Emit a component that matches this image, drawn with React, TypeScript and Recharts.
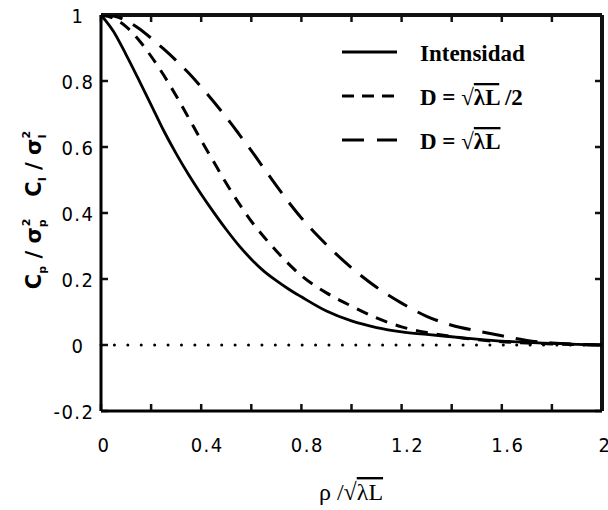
import React from 'react';
import { LineChart, Line, XAxis, YAxis, ReferenceLine, Legend } from 'recharts';

const xValues = [0, 0.05, 0.1, 0.15, 0.2, 0.25, 0.3, 0.35, 0.4, 0.45, 0.5, 0.55, 0.6, 0.65, 0.7, 0.75, 0.8, 0.9, 1.0, 1.1, 1.2, 1.3, 1.4, 1.5, 1.6, 1.7, 1.8, 1.9, 2.0];
const intensidad = [1, 0.95, 0.88, 0.805, 0.728, 0.65, 0.58, 0.516, 0.457, 0.402, 0.35, 0.302, 0.26, 0.224, 0.195, 0.169, 0.146, 0.103, 0.073, 0.053, 0.04, 0.032, 0.025, 0.018, 0.012, 0.008, 0.005, 0.002, 0];
const dMedio = [1, 0.99, 0.965, 0.925, 0.875, 0.818, 0.755, 0.688, 0.62, 0.555, 0.49, 0.43, 0.375, 0.328, 0.285, 0.245, 0.21, 0.158, 0.118, 0.082, 0.055, 0.038, 0.026, 0.016, 0.01, 0.006, 0.003, 0.001, 0];
const dCompleto = [1, 0.997, 0.983, 0.96, 0.93, 0.897, 0.862, 0.824, 0.782, 0.737, 0.69, 0.64, 0.589, 0.536, 0.483, 0.432, 0.385, 0.304, 0.234, 0.175, 0.127, 0.087, 0.06, 0.043, 0.028, 0.014, 0.006, 0.002, 0];

const xTicks = [0, 0.2, 0.4, 0.6, 0.8, 1, 1.2, 1.4, 1.6, 1.8, 2];
const xTickLabels = ['0', '0.4', '0.8', '1.2', '1.6', '2'];
const yTicks = [-0.2, 0, 0.2, 0.4, 0.6, 0.8, 1];
const seriesNames = ['Intensidad', 'D = √λL /2', 'D = √λL'];

const data = xValues.map((x, i) => ({
  x,
  intensidad: intensidad[i],
  dMedio: dMedio[i],
  dCompleto: dCompleto[i],
}));

const TICK_FONT = "'DejaVu Sans Condensed', 'DejaVu Sans', sans-serif";
const SERIF = "'Liberation Serif', 'Times New Roman', serif";
const TICK_LEN = 7;
const INK = '#111111';

const fmt = (v: number) => String(Math.round(v * 10) / 10);

const BottomTick = (props: any) => {
  const { x, y, payload } = props;
  const v = payload.value;
  const label = fmt(v);
  const show = xTickLabels.includes(label);
  const isInt = Number.isInteger(Math.round(v * 10) / 10);
  if (!show) return <g />;
  return (
    <text x={x + (isInt ? 3 : 6)} y={y + 41} textAnchor="middle" fontFamily={TICK_FONT} fontSize={20} letterSpacing={1.5} fill="#000">
      {label}
    </text>
  );
};

const LeftTick = (props: any) => {
  const { x, y, payload } = props;
  const v = payload.value;
  const label = fmt(v);
  const isInt = Number.isInteger(Math.round(v * 10) / 10);
  return (
    <text x={isInt ? x - 16.5 : x - 6.5} y={y + 7.5} textAnchor="end" fontFamily={TICK_FONT} fontSize={20} letterSpacing={1.5} fill="#000">
      {label}
    </text>
  );
};

// inward tick marks at bottom and top of the frame
const VTickShape = (p: any) => (
  <g>
    <line x1={p.x1} x2={p.x1} y1={p.y1} y2={p.y1 - TICK_LEN} stroke={INK} strokeWidth={2.5} />
    <line x1={p.x2} x2={p.x2} y1={p.y2} y2={p.y2 + TICK_LEN} stroke={INK} strokeWidth={2.5} />
  </g>
);

// inward tick marks at left and right of the frame
const HTickShape = (p: any) => (
  <g>
    <line x1={p.x1} x2={p.x1 + TICK_LEN} y1={p.y1} y2={p.y1} stroke={INK} strokeWidth={2.5} />
    <line x1={p.x2} x2={p.x2 - TICK_LEN} y1={p.y2} y2={p.y2} stroke={INK} strokeWidth={2.5} />
  </g>
);

// full frame edge drawn from the reference line end points
const EdgeShape = (p: any) => <line x1={p.x1} x2={p.x2} y1={p.y1} y2={p.y2} stroke={INK} strokeWidth={4} />;

const YLabel = () => {
  const cx = 41;
  const cy = 210;
  return (
    <text x={cx} y={cy} transform={`rotate(-90, ${cx}, ${cy})`} textAnchor="middle" fontFamily="'DejaVu Sans', sans-serif" fontWeight="bold" fontSize={21} fill="#000">
      C<tspan fontSize={11} dy={5}>p</tspan>
      <tspan dy={-5}> / σ</tspan>
      <tspan fontSize={11} dy={5}>p</tspan>
      <tspan fontSize={11} dx={-7} dy={-16}>2</tspan>
      <tspan dy={11}>{'\u00a0\u00a0\u00a0'}C</tspan>
      <tspan fontSize={11} dy={5}>I</tspan>
      <tspan dy={-5}> / σ</tspan>
      <tspan fontSize={11} dy={5}>I</tspan>
      <tspan fontSize={11} dx={-4} dy={-16}>2</tspan>
    </text>
  );
};

const XLabel = () => (
  <text x={351} y={500} textAnchor="middle" fontFamily={SERIF} fontSize={24} fill="#000">
    ρ /√<tspan style={{ textDecoration: 'overline' }}>λL</tspan>
  </text>
);

const legendDash = [undefined, '12 8', '22 13'];

const LegendText = ({ name }: { name: string }) => {
  const idx = name.indexOf('√');
  if (idx < 0) return <>{name}</>;
  const before = name.slice(0, idx + 1);
  const rest = name.slice(idx + 1);
  const over = rest.slice(0, 2);
  const after = rest.slice(2);
  return (
    <>
      {before}
      <tspan style={{ textDecoration: 'overline' }}>{over}</tspan>
      {after}
    </>
  );
};

const renderLegend = () => (
  <svg width={270} height={130}>
    {seriesNames.map((name, i) => {
      const yy = 22 + i * 44;
      return (
        <g key={name}>
          <line x1={12} x2={67} y1={yy} y2={yy} stroke="#000" strokeWidth={3} strokeDasharray={legendDash[i]} />
          <text x={90} y={yy + 9} fontFamily={SERIF} fontWeight="bold" fontSize={23} fill="#000">
            <LegendText name={name} />
          </text>
        </g>
      );
    })}
  </svg>
);

export default function App() {
  return (
    <div style={{ position: 'absolute', left: 0, top: 0, width: 608, height: 510, background: '#fff' }}>
      <LineChart width={608} height={510} data={data} margin={{ top: 15, right: 6, left: 0, bottom: 0 }}>
        <XAxis
          dataKey="x"
          type="number"
          domain={[0, 2]}
          ticks={xTicks}
          allowDataOverflow
          height={99}
          tickSize={0}
          tickMargin={0}
          tickLine={false}
          axisLine={{ stroke: '#000', strokeWidth: 3 }}
          tick={(p: any) => <BottomTick {...p} />}
          label={<XLabel />}
        />
        <YAxis
          type="number"
          domain={[-0.2, 1]}
          ticks={yTicks}
          allowDataOverflow
          width={101}
          tickSize={0}
          tickMargin={0}
          tickLine={false}
          axisLine={{ stroke: '#000', strokeWidth: 3 }}
          tick={(p: any) => <LeftTick {...p} />}
          label={<YLabel />}
        />
        {xTicks.map((t) => (
          <ReferenceLine key={`vx${t}`} x={t} stroke={INK} shape={(p: any) => <VTickShape {...p} />} />
        ))}
        {yTicks.map((t) => (
          <ReferenceLine key={`hy${t}`} y={t} stroke={INK} shape={(p: any) => <HTickShape {...p} />} />
        ))}
        <ReferenceLine x={xTicks[xTicks.length - 1]} stroke={INK} strokeWidth={4} shape={(p: any) => <EdgeShape {...p} />} />
        <ReferenceLine y={yTicks[yTicks.length - 1]} stroke={INK} strokeWidth={4} shape={(p: any) => <EdgeShape {...p} />} />
        <ReferenceLine y={0} stroke="#000" strokeWidth={3} strokeDasharray="0.01 13.4" strokeLinecap="round" />
        <Line type="monotone" dataKey="intensidad" name={seriesNames[0]} stroke="#000" strokeWidth={2.8} dot={false} activeDot={false} isAnimationActive={false} />
        <Line type="monotone" dataKey="dMedio" name={seriesNames[1]} stroke="#000" strokeWidth={3} strokeDasharray="12 9" dot={false} activeDot={false} isAnimationActive={false} />
        <Line type="monotone" dataKey="dCompleto" name={seriesNames[2]} stroke="#000" strokeWidth={3} strokeDasharray="22 12" dot={false} activeDot={false} isAnimationActive={false} />
        <Legend
          layout="horizontal"
          verticalAlign="middle"
          align="center"
          content={renderLegend}
          wrapperStyle={{ position: 'absolute', left: 330, top: 30, width: 270, height: 130 }}
        />
      </LineChart>
    </div>
  );
}
